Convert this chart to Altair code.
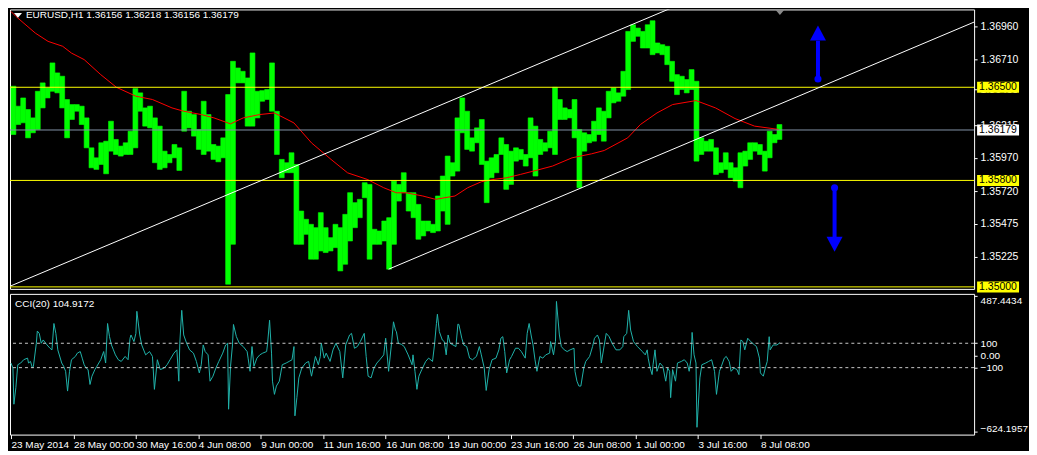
import json
import altair as alt
import pandas as pd

# ---------------- data ----------------
# EURUSD H1 price, aggregated into 5-bar buckets (bucket i covers bars 5i..5i+5)
price_high = [
    1.36508, 1.36358, 1.3642, 1.36333, 1.3627, 1.3647, 1.36533, 1.36495, 1.36683, 1.36608,
    1.36583, 1.36408, 1.3637, 1.3637, 1.36358, 1.3627, 1.36045, 1.3597, 1.36083, 1.36095,
    1.36245, 1.36108, 1.36058, 1.36083, 1.3617, 1.3649, 1.36458, 1.36345, 1.36358, 1.3627,
    1.36208, 1.3602, 1.35995, 1.3607, 1.36045, 1.3647, 1.3632, 1.36295, 1.36183, 1.36395,
    1.36295, 1.3607, 1.36058, 1.3612, 1.36445, 1.36695, 1.36645, 1.3662, 1.3657, 1.36758,
    1.3647, 1.36475, 1.36483, 1.36683, 1.3632, 1.35958, 1.35933, 1.36008, 1.3592, 1.3557,
    1.35508, 1.3547, 1.35445, 1.35558, 1.35445, 1.3537, 1.3547, 1.35445, 1.35545, 1.35708,
    1.35633, 1.35658, 1.35783, 1.3577, 1.35433, 1.3542, 1.35495, 1.3552, 1.35795, 1.3577,
    1.35858, 1.35708, 1.35708, 1.3562, 1.35495, 1.35495, 1.3547, 1.35683, 1.35833, 1.35983,
    1.35933, 1.3627, 1.3642, 1.3632, 1.3612, 1.36195, 1.36258, 1.35945, 1.3597, 1.35995,
    1.3612, 1.3607, 1.3602, 1.36045, 1.36033, 1.35995, 1.3627, 1.36208, 1.36108, 1.36083,
    1.3617, 1.365, 1.36408, 1.36345, 1.36333, 1.36408, 1.36183, 1.36158, 1.36145, 1.36245,
    1.36345, 1.3632, 1.3647, 1.36495, 1.36458, 1.3662, 1.3692, 1.3697, 1.36945, 1.3692,
    1.3697, 1.37, 1.36833, 1.3682, 1.36808, 1.36695, 1.36595, 1.36583, 1.36558, 1.36633,
    1.36545, 1.3612, 1.36095, 1.36108, 1.36045, 1.35933, 1.36008, 1.35933, 1.35895, 1.36008,
    1.3602, 1.36083, 1.36083, 1.3607, 1.3602, 1.3617, 1.36145, 1.3622,
]
price_low = [
    1.36145, 1.3622, 1.36233, 1.3612, 1.36158, 1.36183, 1.36345, 1.3642, 1.3647, 1.36458,
    1.36345, 1.3612, 1.36258, 1.3632, 1.3622, 1.36045, 1.35895, 1.35883, 1.3592, 1.3585,
    1.3602, 1.35995, 1.35983, 1.35995, 1.35995, 1.36045, 1.3632, 1.36208, 1.36195, 1.35933,
    1.35883, 1.35895, 1.35933, 1.3597, 1.35875, 1.3617, 1.36195, 1.36133, 1.36033, 1.35995,
    1.3602, 1.35958, 1.3594, 1.3597, 1.3502, 1.3532, 1.36533, 1.36533, 1.36208, 1.36208,
    1.3627, 1.36395, 1.36408, 1.3632, 1.35995, 1.3582, 1.35858, 1.35858, 1.3532, 1.3532,
    1.35395, 1.35208, 1.35208, 1.3527, 1.35258, 1.3527, 1.35295, 1.3512, 1.3517, 1.35345,
    1.35445, 1.3552, 1.3567, 1.35208, 1.3532, 1.3532, 1.35345, 1.35133, 1.3532, 1.35645,
    1.35708, 1.3557, 1.3552, 1.35358, 1.35383, 1.3542, 1.35408, 1.3542, 1.3557, 1.3547,
    1.35833, 1.3587, 1.36158, 1.36033, 1.3602, 1.36083, 1.3592, 1.35633, 1.3582, 1.35858,
    1.35995, 1.35733, 1.3577, 1.35945, 1.35958, 1.35908, 1.3597, 1.35833, 1.35995, 1.3602,
    1.36045, 1.35995, 1.36258, 1.36258, 1.3627, 1.3612, 1.35745, 1.3602, 1.36083, 1.36095,
    1.36145, 1.36095, 1.3627, 1.36383, 1.36395, 1.36433, 1.36483, 1.36845, 1.36883, 1.36795,
    1.36795, 1.36745, 1.36758, 1.36745, 1.3667, 1.36545, 1.36445, 1.36483, 1.36458, 1.36483,
    1.35945, 1.35995, 1.3602, 1.3602, 1.35845, 1.35858, 1.35883, 1.3582, 1.35795, 1.35745,
    1.35908, 1.35958, 1.3602, 1.35995, 1.3587, 1.3597, 1.36083, 1.36108,
]
BUCKET = 5

# red moving average
ma_bar = [0, 5, 25, 38, 53, 62, 75, 92, 108, 128,
          145, 165, 177, 195, 208, 225, 238, 255, 270, 290,
          308, 328, 345, 365, 382, 395, 405, 422, 435, 455,
          468, 482, 495, 508, 522, 538, 555, 575, 595, 608,
          632, 645, 662, 678, 702, 722, 742, 762, 787]
ma_val = [1.37070, 1.37033, 1.36907, 1.36845, 1.36808, 1.36757, 1.36708, 1.36595, 1.36500, 1.36433,
          1.36408, 1.36345, 1.36320, 1.36295, 1.36270, 1.36225, 1.36270, 1.36295, 1.36307, 1.36232,
          1.36082, 1.35958, 1.35857, 1.35808, 1.35745, 1.35707, 1.35707, 1.35683, 1.35658, 1.35683,
          1.35745, 1.35790, 1.35808, 1.35820, 1.35845, 1.35875, 1.35908, 1.35970, 1.36000, 1.36025,
          1.36120, 1.36220, 1.36307, 1.36370, 1.36400, 1.36345, 1.36265, 1.36208, 1.36183]

# CCI(20)
cci_bar = [
    0, 2, 3, 5, 7, 10, 13, 17, 18, 20,
    22, 23, 26, 27, 29, 31, 33, 37, 40, 42,
    44, 46, 48, 52, 54, 56, 58, 60, 62, 66,
    68, 71, 73, 75, 77, 79, 81, 83, 86, 88,
    92, 95, 97, 99, 101, 103, 105, 107, 110, 113,
    117, 120, 122, 123, 126, 128, 129, 132, 134, 138,
    142, 145, 147, 150, 153, 157, 160, 163, 167, 170,
    172, 173, 175, 177, 180, 183, 187, 190, 193, 195,
    197, 199, 202, 204, 207, 210, 213, 217, 220, 222,
    223, 225, 227, 228, 231, 234, 238, 242, 243, 245,
    247, 249, 252, 255, 258, 262, 263, 265, 267, 268,
    270, 272, 275, 278, 282, 285, 288, 290, 291, 293,
    295, 298, 302, 305, 308, 312, 315, 317, 318, 321,
    323, 327, 330, 333, 337, 340, 343, 347, 349, 352,
    355, 358, 362, 364, 366, 369, 372, 375, 378, 382,
    384, 387, 390, 392, 394,
    395, 397, 400, 403, 407, 409, 411, 412, 414, 416,
    418, 421, 425, 428, 432, 434, 436, 437, 439, 442,
    444, 446, 448, 450, 453, 456, 458, 459, 462, 464,
    467, 470, 473, 477, 480, 482, 485, 487, 490, 493,
    497, 500, 502, 504, 506, 508, 511, 513, 517, 520,
    523, 527, 529, 531, 533, 535, 537, 539, 542, 545,
    548, 552, 553, 556, 558, 559, 562, 564, 567, 570,
    573, 577, 578, 580, 582, 584, 587, 589, 593, 596,
    598, 601, 603, 605, 608, 610, 613, 616, 620, 624,
    627, 628, 631, 633, 635, 638, 642, 647, 650, 652,
    653, 655, 657, 658, 660, 662, 665, 668, 671, 673,
    675, 676, 678, 681, 683, 687, 690, 693, 695, 697,
    698, 700, 702, 703, 706, 708, 712, 715, 718, 721,
    723, 726, 728, 731, 733, 736, 738, 741, 744, 746,
    748, 750, 752, 755, 758, 762, 764, 767, 768, 771,
    773, 775, 777, 778, 781, 785, 788,
]
cci_val = [
    -62, -103, -400, -265, -76, -62, -35, -22, -62, -49,
    -103, -89, 100, 200, 181, 100, 127, 86, 59, 46,
    262, 181, 46, -62, -89, -130, -292, -130, -35, -8,
    19, 32, -22, -76, -103, -116, -238, -170, -116, -89,
    -35, 32, -62, 262, 154, 86, 46, 5, -35, -49,
    -8, -35, 141, 168, 114, 181, 362, 168, 86, 5,
    32, -8, -278, -35, -116, -103, -76, -35, 19, 46,
    -211, 100, 370, 168, 100, 46, 19, -49, -143, -76,
    86, 32, 5, -211, -170, -103, -49, 19, 86, 100,
    -441, -89, 86, 254, 154, 100, 73, 32, -22, -130,
    73, -89, -22, 5, 19, 32, 100, 289, 19, -211,
    -319, -251, -211, -76, -62, -49, -35, 73, -495, -346,
    -184, -103, -62, -49, -170, -8, -76, -8, 100, -22,
    19, -49, 46, 100, 32, -184, 86, 168, 181, 59,
    73, 114, 181, -8, -170, -184, -103, -62, -35, 5,
    141, -130, 100, 276, 208,
    195, 100, 92, 73, 5, -35, -76, 5, -130, -278,
    -170, -116, -49, -22, -49, 86, 262, 338, 195, 127,
    114, 5, 168, 100, 86, 73, 257, 254, 141, 86,
    73, -22, -35, -8, 73, 5, -103, -287, -116, -35,
    -22, 46, 141, 154, 32, -143, -35, -8, 59, 59,
    32, -22, 181, 262, 168, 86, -35, -130, -8, -22,
    5, 19, 114, 5, 114, 443, 168, 73, 46, 32,
    46, 59, -130, -211, -251, -251, -103, -49, -8, 73,
    141, 168, 127, -62, 86, 181, 154, 100, 46, 46,
    73, 154, 181, 370, 208, 114, 73, 32, 5, 46,
    -22, -103, -157, -76, 46, -130, -62, -89, -211, -103,
    -130, -346, -116, -211, -62, -49, -35, -62, -130, -22,
    189, 5, -62, -589, -184, -76, -62, -49, -35, -130,
    -319, -130, -89, -22, -8, -49, -130, -103, -116, -157,
    127, 114, 46, 141, 114, 86, 73, -22, -143, -170,
    -103, -49, 154, 46, 86, 86, 105,
]

# horizontal levels and bid line
level_prices = [1.36500, 1.35800, 1.35000]
level_texts = ["1.36500", "1.35800", "1.35000"]
bid_price = 1.36179
bid_text = "1.36179"

# channel (trend) lines: endpoints (bar, price)
chan_name = ["upper", "upper", "lower", "lower"]
chan_bar = [0, 683, 387, 987]
chan_price = [1.35008, 1.37115, 1.35133, 1.36990]

# blue arrows
arrow_bar = [827, 844]
arrow_start = [1.36562, 1.35745]
arrow_head_base = [1.36850, 1.35375]
arrow_head_mid = [1.36907, 1.35320]

shift_bar = [788]

price_ticks = [1.36960, 1.36710, 1.36485, 1.36215, 1.35970, 1.35720, 1.35475, 1.35225]
cci_ticks = [487.4434, 100, 0, -100, -624.1957]
cci_levels = [100, -100]

time_labels = ["23 May 2014", "28 May 00:00", "30 May 16:00", "4 Jun 08:00", "9 Jun 00:00",
               "11 Jun 16:00", "16 Jun 08:00", "19 Jun 00:00", "23 Jun 16:00", "26 Jun 08:00",
               "1 Jul 00:00", "3 Jul 16:00", "8 Jul 08:00"]
time_ticks = [0, 64, 128, 192, 256, 320, 384, 448, 512, 576, 640, 704, 768]

header_text = "EURUSD,H1  1.36156 1.36218 1.36156 1.36179"
cci_text = "CCI(20) 104.9172"

# ---------------- chart ----------------
W = 966
H1 = 280
H2 = 141
FONT = "Liberation Sans"
FS = 10.5

xscale = alt.Scale(domain=[-1, 987], nice=False, zero=False)
yscale = alt.Scale(domain=[1.34985, 1.37085], nice=False, zero=False)
cscale = alt.Scale(domain=[-649, 505], nice=False, zero=False)

price_df = pd.DataFrame({"high": price_high, "low": price_low})
price_df["start"] = [BUCKET * i for i in range(len(price_df))]
price_df["end"] = price_df["start"] + BUCKET

ma_df = pd.DataFrame({"bar": ma_bar, "price": ma_val})
cci_df = pd.DataFrame({"bar": cci_bar, "cci": cci_val})
levels_df = pd.DataFrame({"price": level_prices})
chan_df = pd.DataFrame({"line": chan_name, "bar": chan_bar, "price": chan_price})
arrow_df = pd.DataFrame({"bar": arrow_bar, "start": arrow_start,
                         "base": arrow_head_base, "mid": arrow_head_mid})
label_df = pd.DataFrame({
    "price": level_prices + [bid_price],
    "text": level_texts + [bid_text],
    "bg": ["#ffff00", "#ffff00", "#ffff00", "#ffffff"],
})

price_axis = alt.Axis(orient="right", values=price_ticks, format=".5f", title=None,
                      labelColor="white", tickColor="white", tickSize=3, labelPadding=3,
                      domain=False, grid=False, labelFont=FONT, labelFontSize=FS,
                      labelOverlap=False)

cci_axis = alt.Axis(
    orient="right", values=cci_ticks, title=None,
    labelExpr="datum.value == 0 ? '0.00' : (abs(datum.value) == 100 ? format(datum.value, 'd') : format(datum.value, '.4f'))",
    labelBaseline={"condition": [{"test": "datum.value > 400", "value": "top"},
                                 {"test": "datum.value < -400", "value": "alphabetic"}],
                   "value": "middle"},
    labelColor="white", tickColor="white", tickSize=3, labelPadding=3,
    domain=False, grid=False, labelFont=FONT, labelFontSize=10, labelOverlap=False)

time_axis = alt.Axis(
    values=time_ticks, title=None,
    labelExpr=json.dumps(time_labels) + "[round(datum.value / 64)]",
    labelAlign="left", labelBaseline="top", labelColor="white", tickColor="white",
    tickSize=4, labelPadding=1, domain=False, grid=False, labelFont=FONT,
    labelFontSize=10, labelOverlap=False, labelFlush=False)


def X(f):
    return alt.X(f, scale=xscale, axis=None)


def Y(f):
    return alt.Y(f, scale=yscale, axis=price_axis)


price_layer = alt.Chart(price_df).mark_rect(
    color="#00ff00", stroke="#00ff00", strokeWidth=0.6).encode(
    x=X("start:Q"), x2="end:Q", y=Y("low:Q"), y2="high:Q")

level_layer = alt.Chart(levels_df).mark_rule(color="#ffff00", strokeWidth=1).encode(
    y=Y("price:Q"))

bid_layer = alt.Chart(pd.DataFrame({"price": [bid_price]})).mark_rule(
    color="#8393a7", strokeWidth=1).encode(y=Y("price:Q"))

chan_layer = alt.Chart(chan_df).mark_line(color="white", strokeWidth=1, clip=True).encode(
    x=X("bar:Q"), y=Y("price:Q"), detail="line:N")

ma_layer = alt.Chart(ma_df).mark_line(color="#ff0000", strokeWidth=1).encode(
    x=X("bar:Q"), y=Y("price:Q"))

shaft_layer = alt.Chart(arrow_df).mark_rule(color="#0000ff", strokeWidth=4).encode(
    x=X("bar:Q"), y=Y("start:Q"), y2="base:Q")
dot_layer = alt.Chart(arrow_df).mark_point(
    shape="circle", filled=True, size=50, color="#0000ff", opacity=1).encode(
    x=X("bar:Q"), y=Y("start:Q"))
head_up = alt.Chart(arrow_df.iloc[[0]]).mark_point(
    shape="M0,-0.94L1,0.94L-1,0.94Z", filled=True, size=256, color="#0000ff",
    opacity=1, strokeWidth=0).encode(x=X("bar:Q"), y=Y("mid:Q"))
head_down = alt.Chart(arrow_df.iloc[[1]]).mark_point(
    shape="M0,0.94L1,-0.94L-1,-0.94Z", filled=True, size=256, color="#0000ff",
    opacity=1, strokeWidth=0).encode(x=X("bar:Q"), y=Y("mid:Q"))

shift_layer = alt.Chart(pd.DataFrame({"bar": shift_bar})).mark_point(
    shape="M-1,-0.6L1,-0.6L0,0.6Z", filled=True, size=80, color="#8a8a8a",
    opacity=1, strokeWidth=0).encode(x=X("bar:Q"), y=alt.value(3))

box_layer = alt.Chart(label_df).mark_point(
    shape="M-3.82,-1L3.82,-1L3.82,1L-3.82,1Z", filled=True, size=121, opacity=1,
    strokeWidth=0).encode(
    x=alt.value(W + 24), y=Y("price:Q"), color=alt.Color("bg:N", scale=None))
box_text = alt.Chart(label_df).mark_text(
    align="left", baseline="middle", color="black", font=FONT, fontSize=FS).encode(
    x=alt.value(W + 5), y=Y("price:Q"), text="text:N")

header_tri = alt.Chart(pd.DataFrame({"t": [header_text]})).mark_point(
    shape="M-1,-0.6L1,-0.6L0,0.6Z", filled=True, size=64, color="white",
    opacity=1, strokeWidth=0).encode(x=alt.value(8), y=alt.value(6))
header = alt.Chart(pd.DataFrame({"t": [header_text]})).mark_text(
    align="left", baseline="middle", color="white", font=FONT, fontSize=10).encode(
    x=alt.value(16), y=alt.value(6), text="t:N")

main = alt.layer(
    price_layer, ma_layer, level_layer, bid_layer, chan_layer,
    shaft_layer, dot_layer, head_up, head_down, shift_layer,
    box_layer, box_text, header_tri, header,
).properties(width=W, height=H1)

# ---- CCI panel ----
def CY(f):
    return alt.Y(f, scale=cscale, axis=cci_axis)


cci_line = alt.Chart(cci_df).mark_line(color="#20b2aa", strokeWidth=1).encode(
    x=alt.X("bar:Q", scale=xscale, axis=time_axis),
    y=CY("cci:Q"),
)
cci_lv = alt.Chart(pd.DataFrame({"v": cci_levels})).mark_rule(
    color="#c8c8c8", strokeWidth=1, strokeDash=[3, 3]).encode(y=CY("v:Q"))
cci_label = alt.Chart(pd.DataFrame({"t": [cci_text]})).mark_text(
    align="left", baseline="middle", color="white", font=FONT, fontSize=10).encode(
    x=alt.value(5), y=alt.value(10), text="t:N")

cci = alt.layer(cci_line, cci_lv, cci_label).properties(width=W, height=H2)

chart = alt.vconcat(main, cci, spacing=5, bounds="flush").properties(
    padding={"left": 0, "top": 0, "right": 0, "bottom": 0}
).configure(background="black").configure_view(stroke="white", strokeWidth=1)

chart.save("out.html", embed_options={"renderer": "svg", "actions": False})
